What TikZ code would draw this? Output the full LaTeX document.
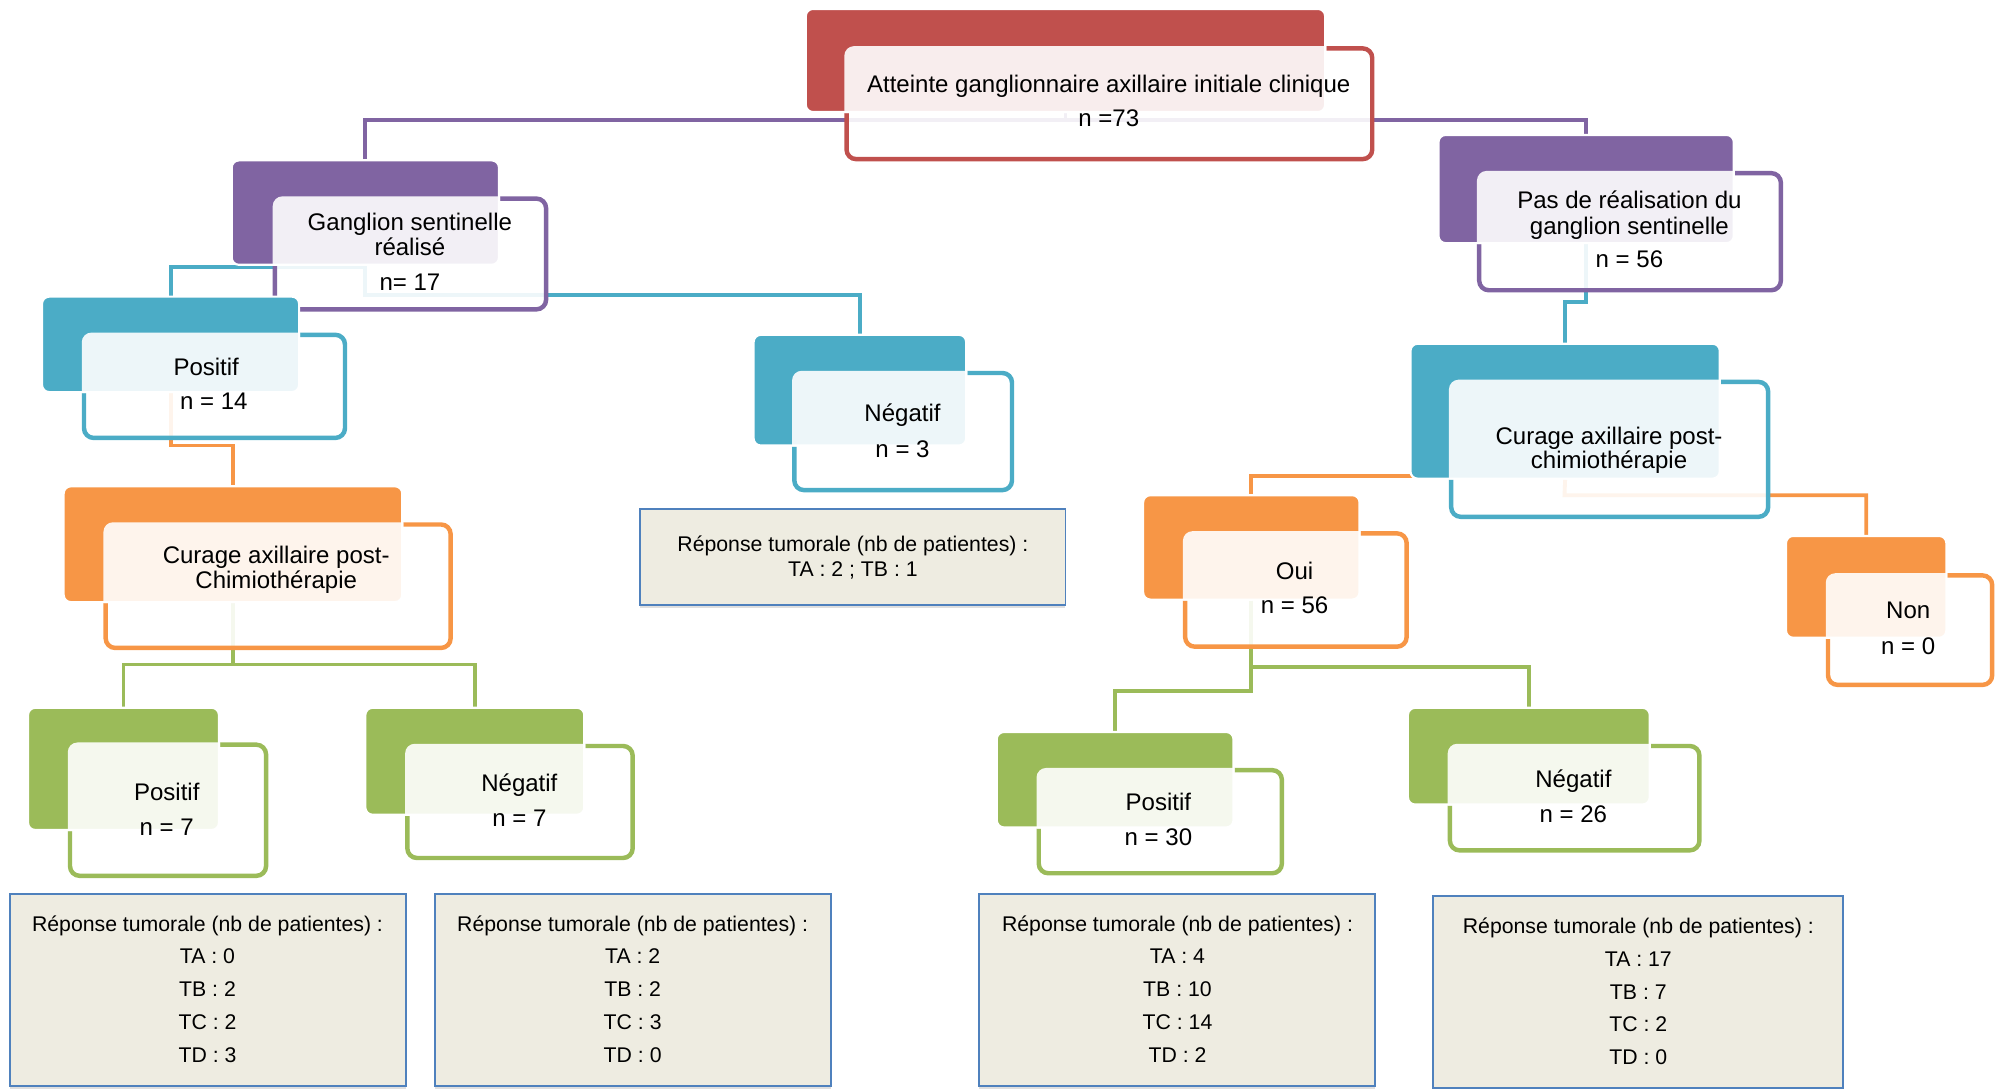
\documentclass[tikz,border=0pt]{standalone}
\usepackage{fontspec}
\setmainfont{Liberation Sans}
\usepackage{xcolor}
\usetikzlibrary{fit,shadows}

\definecolor{redA}{HTML}{C0504D}
\definecolor{purpleA}{HTML}{8064A2}
\definecolor{cyanA}{HTML}{4BACC6}
\definecolor{orangeA}{HTML}{F79646}
\definecolor{greenA}{HTML}{9BBB59}
\definecolor{respfill}{HTML}{EEECE1}
\definecolor{respline}{HTML}{4F81BD}

\pgfdeclarelayer{bg}
\pgfsetlayers{bg,main}

\newcommand{\twobox}[6]{%
  \node[frontbox=#2, fit={(#5) (#6)}] (#1F) {};
  \node[backbox=#2, fit={(#3) (#4)}] (#1B) {};
  \begin{scope}
    \clip[rounded corners=3pt] (#1B.south west) rectangle (#1B.north east);
    \fill[white, opacity=.9, rounded corners=4pt] (#1F.south west) rectangle (#1F.north east);
  \end{scope}}

\begin{document}
\begin{tikzpicture}[
  x=0.53pt, y=-0.53pt,
  frontbox/.style={draw=#1, line width=1.85pt, fill=white, fill opacity=.9, draw opacity=1, rounded corners=4pt, inner sep=0pt},
  backbox/.style={fill=#1, draw=white, line width=0.9pt, rounded corners=3pt, inner sep=0pt},
  link/.style={draw=#1, line width=1.6pt},
  lbl/.style={anchor=base, inner sep=0pt, font=\fontsize{10}{12}\selectfont},
  resp/.style={draw=respline, line width=0.8pt, fill=respfill, inner sep=0pt, drop shadow={opacity=.25, shadow xshift=0pt, shadow yshift=-1.5pt}},
  rtxt/.style={anchor=base, inner sep=0pt, font=\fontsize{8.85}{10}\selectfont}
]
\useasboundingbox (0,0) rectangle (1568,855);

\twobox{root}{redA}{633,7}{1041,88}{665,38}{1078,125}
\node[lbl] (rootT) at (871,73) {Atteinte ganglionnaire axillaire initiale clinique};
\node[lbl] (rootN) at (871,99) {n =73};

\twobox{gang}{purpleA}{182,126}{392,208}{216,156}{429,243}
\node[lbl] (gangT1) at (322,181) {Ganglion sentinelle};
\node[lbl] (gangT2) at (322,201) {réalisé};
\node[lbl] (gangN) at (322,228) {n= 17};

\twobox{pas}{purpleA}{1130,106}{1362,191}{1162,136}{1399,228}
\node[lbl] (pasT1) at (1280,164) {Pas de réalisation du};
\node[lbl] (pasT2) at (1280,184) {ganglion sentinelle};
\node[lbl] (pasN) at (1280,210) {n = 56};

\twobox{posa}{cyanA}{33,233}{235,308}{66,263}{271,344}
\node[lbl] (posaT) at (162,295) {Positif};
\node[lbl] (posaN) at (168,322) {n = 14};

\twobox{nega}{cyanA}{592,263}{759,350}{624,293}{795,385}
\node[lbl] (negaT) at (709,331) {Négatif};
\node[lbl] (negaN) at (709,359) {n = 3};

\twobox{cura}{orangeA}{50,382}{316,473}{83,412}{354,509}
\node[lbl] (curaT1) at (217,443) {Curage axillaire post-};
\node[lbl] (curaT2) at (217,462) {Chimiothérapie};

\twobox{curc}{cyanA}{1108,270}{1351,376}{1140,300}{1389,406}
\node[lbl] (curcT1) at (1264,349) {Curage axillaire post-};
\node[lbl] (curcT2) at (1264,368) {chimiothérapie};

\twobox{oui}{orangeA}{898,389}{1068,471}{931,419}{1105,508}
\node[lbl] (ouiT) at (1017,455) {Oui};
\node[lbl] (ouiN) at (1017,482) {n = 56};

\twobox{non}{orangeA}{1403,421}{1529,501}{1436,452}{1565,538}
\node[lbl] (nonT) at (1499,486) {Non};
\node[lbl] (nonN) at (1499,514) {n = 0};

\twobox{posb}{greenA}{22,556}{172,652}{55,585}{209,688}
\node[lbl] (posbT) at (131,629) {Positif};
\node[lbl] (posbN) at (131,656) {n = 7};

\twobox{negb}{greenA}{287,556}{459,640}{320,586}{497,674}
\node[lbl] (negbT) at (408,622) {Négatif};
\node[lbl] (negbN) at (408,649) {n = 7};

\twobox{posc}{greenA}{783,575}{969,650}{816,605}{1007,686}
\node[lbl] (poscT) at (910,637) {Positif};
\node[lbl] (poscN) at (910,664) {n = 30};

\twobox{negc}{greenA}{1106,556}{1296,632}{1139,586}{1335,668}
\node[lbl] (negcT) at (1236,619) {Négatif};
\node[lbl] (negcN) at (1236,646) {n = 26};

\node[resp, fit={(503,400) (837,475)}] (respM) {};
\node[rtxt] (respM1) at (670,433.5) {Réponse tumorale (nb de patientes) :};
\node[rtxt] (respM2) at (670,452.5) {TA : 2 ; TB : 1};

\node[resp, fit={(8,702) (319,853)}] (respA) {};
\foreach \t [count=\i] in {{Réponse tumorale (nb de patientes) :},{TA : 0},{TB : 2},{TC : 2},{TD : 3}}
  \node[rtxt] (respA\i) at (163,{731.5+25.7*(\i-1)}) {\t};

\node[resp, fit={(342,702) (653,853)}] (respB) {};
\foreach \t [count=\i] in {{Réponse tumorale (nb de patientes) :},{TA : 2},{TB : 2},{TC : 3},{TD : 0}}
  \node[rtxt] (respB\i) at (497,{731.5+25.7*(\i-1)}) {\t};

\node[resp, fit={(769,702) (1080,853)}] (respC) {};
\foreach \t [count=\i] in {{Réponse tumorale (nb de patientes) :},{TA : 4},{TB : 10},{TC : 14},{TD : 2}}
  \node[rtxt] (respC\i) at (925,{731.5+25.7*(\i-1)}) {\t};

\node[resp, fit={(1126,704) (1448,855)}] (respD) {};
\foreach \t [count=\i] in {{Réponse tumorale (nb de patientes) :},{TA : 17},{TB : 7},{TC : 2},{TD : 0}}
  \node[rtxt] (respD\i) at (1287,{733.5+25.7*(\i-1)}) {\t};

\begin{pgfonlayer}{bg}
\coordinate (rootJ) at (837,94);
\coordinate (gangJ1) at (287,210);
\coordinate (gangJ2) at (287,232);
\coordinate (posaJ) at (134,350);
\coordinate (curaJ) at (183,522);
\coordinate (pasJ) at (1246,237);
\coordinate (curcJ1) at (1229,374);
\coordinate (curcJ2) at (1229,389);
\coordinate (ouiJ1) at (983,524);
\coordinate (ouiJ2) at (983,543);
\draw[link=purpleA] (rootB.south) -- (rootJ);
\draw[link=purpleA] (gangB.north) |- (rootJ) -| (pasB.north);
\draw[link=cyanA] (gangB.south) -- (gangJ2) -| (negaB.north);
\draw[link=cyanA] (gangJ1) -| (posaB.north);
\draw[link=orangeA] (posaB.south) -- (posaJ) -| (curaB.north);
\draw[link=greenA] (curaB.south) -- (curaJ);
\draw[link=greenA] (posbB.north) |- (curaJ) -| (negbB.north);
\draw[link=cyanA] (pasB.south) -- (pasJ) -| (curcB.north);
\draw[link=orangeA] (curcB.south) -- (curcJ2) -| (nonB.north);
\draw[link=orangeA] (curcJ1) -| (ouiB.north);
\draw[link=greenA] (ouiB.south) -- (ouiJ2) -| (poscB.north);
\draw[link=greenA] (ouiJ1) -| (negcB.north);
\end{pgfonlayer}
\end{tikzpicture}
\end{document}
